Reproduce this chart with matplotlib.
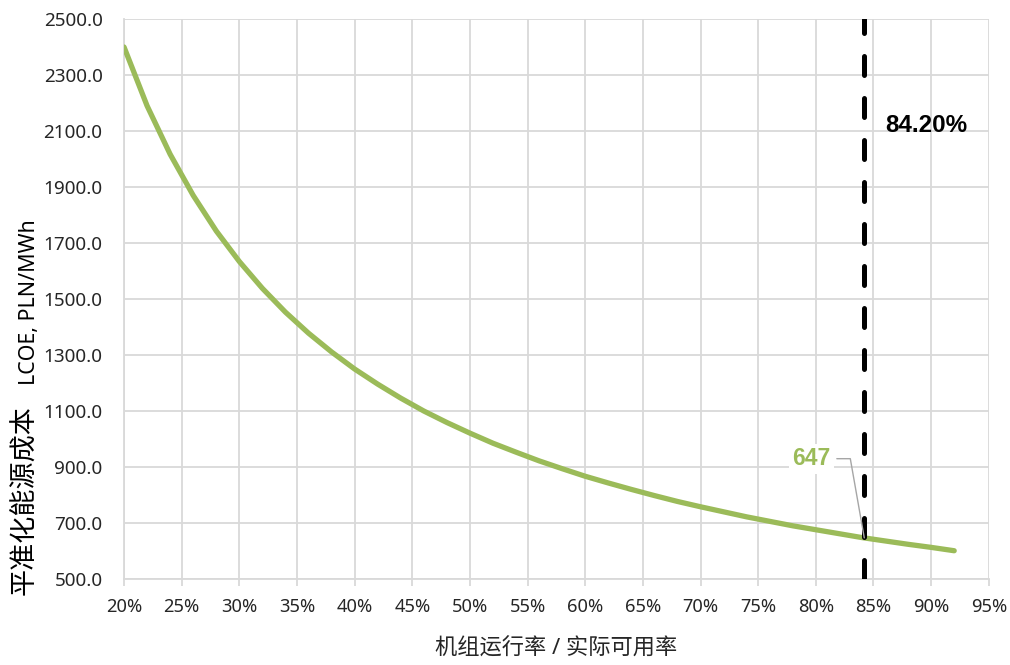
import matplotlib as mpl
mpl.use('Agg')
import matplotlib.pyplot as plt
import numpy as np

plt.rcParams['font.family'] = ['Noto Sans', 'Noto Sans CJK SC']

# utilisation rate (%) and LCOE (PLN/MWh)
rate = [20, 22, 24, 26, 28, 30, 32, 34, 36, 38, 40, 42, 44, 46, 48, 50, 52, 54, 56,
        58, 60, 62, 64, 66, 68, 70, 72, 74, 76, 78, 80, 82, 84, 86, 88, 90, 92]
lcoe = [2400, 2190, 2017, 1870, 1743, 1634, 1538, 1453, 1378, 1311, 1250, 1196, 1146,
        1100, 1059, 1021, 985, 953, 922, 894, 867, 843, 820, 798, 777, 758, 740, 722,
        706, 690, 676, 662, 648, 636, 624, 613, 601]
mark_rate = 84.2
mark_value = 647
xticks = list(range(20, 100, 5))
yticks = list(range(500, 2501, 200))

green = '#9BBB59'
gridc = '#D9D9D9'
textc = '#262626'
boldfont = ['Liberation Sans', 'DejaVu Sans']

fig = plt.figure(figsize=(10.10, 6.65), dpi=100)
ax = fig.add_axes([0.1228, 0.1293, 0.979 - 0.1228, 0.9714 - 0.1293])

ax.plot(rate, lcoe, color=green, lw=3.8, solid_capstyle='round', zorder=3)
ax.axvline(mark_rate, color='black', lw=3.6, dashes=(3.8, 4.6),
           dash_capstyle='round', zorder=4)

ax.set_xlim(20, 95)
ax.set_ylim(500, 2500)
ax.set_xticks(xticks)
ax.set_xticklabels(['%d%%' % t for t in xticks])
ax.set_yticks(yticks)
ax.set_yticklabels(['%.1f' % t for t in yticks])
ax.grid(True, color=gridc, lw=1.3, zorder=0)
ax.set_axisbelow(True)
for s in ['top', 'right']:
    ax.spines[s].set_visible(False)
for s in ['left', 'bottom']:
    ax.spines[s].set_color(gridc)
    ax.spines[s].set_linewidth(1.3)
ax.tick_params(axis='x', colors=gridc, length=5, width=1.3, labelcolor=textc,
               labelsize=13.2, pad=8.5)
ax.tick_params(axis='y', length=0, labelcolor=textc, labelsize=13.6, pad=15.5)

ax.text(86.0, 2118, '84.20%', fontsize=17.4, fontweight='bold', color='black',
        family=boldfont, va='center', ha='left', zorder=5)

ax.annotate(str(mark_value), xy=(mark_rate, mark_value), xytext=(-38, 57),
            textcoords='offset points', ha='center', va='center', fontsize=16.5,
            fontweight='bold', color=green, family=boldfont, zorder=6,
            bbox=dict(boxstyle='square,pad=0.15', fc='white', ec='none'),
            arrowprops=dict(arrowstyle='-', color='#A6A6A6', lw=1,
                            shrinkA=2, shrinkB=0,
                            connectionstyle='angle,angleA=0,angleB=100,rad=0'))

ax.set_xlabel('机组运行率 / 实际可用率', fontsize=16, color=textc, labelpad=16)
fig.text(0.025, 0.248, '平准化能源成本', rotation=90, fontsize=19.5, color='black',
         ha='center', va='center')
fig.text(0.029, 0.546, 'LCOE, PLN/MWh', rotation=90, fontsize=15.4, color='black',
         ha='center', va='center')

plt.savefig('out.png', dpi=100)
